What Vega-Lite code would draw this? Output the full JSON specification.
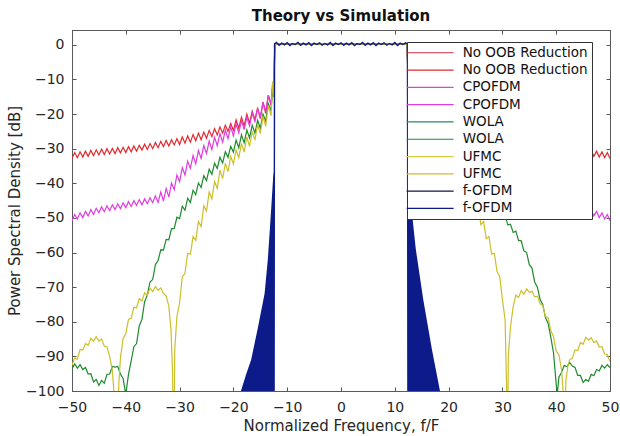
{
  "$schema": "https://vega.github.io/schema/vega-lite/v6.json",
  "width": 538,
  "height": 361,
  "autosize": "none",
  "padding": {"left": 72, "top": 30, "right": 10, "bottom": 45},
  "background": "white",
  "title": {"text": "Theory vs Simulation", "font": "DejaVu Sans", "fontSize": 15, "fontWeight": "bold", "color": "#111111", "offset": 6},
  "config": {"view": {"stroke": "#5a5a5a", "strokeWidth": 1}, "font": "DejaVu Sans"},
  "datasets": {
    "red": [
      {"x":-50,"y":-32.8},{"x":-49.5,"y":-31.1},{"x":-49,"y":-32.6},{"x":-48.5,"y":-30.9},{"x":-48,"y":-32.4},{"x":-47.5,"y":-30.7},{"x":-47,"y":-32.2},{"x":-46.5,"y":-30.5},{"x":-46,"y":-32.0},{"x":-45.5,"y":-30.3},{"x":-45,"y":-31.8},{"x":-44.5,"y":-30.1},{"x":-44,"y":-31.7},{"x":-43.5,"y":-30.0},{"x":-43,"y":-31.5},{"x":-42.5,"y":-29.9},{"x":-42,"y":-31.4},{"x":-41.5,"y":-29.7},{"x":-41,"y":-31.2},{"x":-40.5,"y":-29.6},{"x":-40,"y":-31.1},{"x":-39.5,"y":-29.4},{"x":-39,"y":-30.9},{"x":-38.5,"y":-29.2},{"x":-38,"y":-30.7},{"x":-37.5,"y":-29.0},{"x":-37,"y":-30.4},{"x":-36.5,"y":-28.7},{"x":-36,"y":-30.2},{"x":-35.5,"y":-28.5},{"x":-35,"y":-30.0},{"x":-34.5,"y":-28.2},{"x":-34,"y":-29.7},{"x":-33.5,"y":-27.9},{"x":-33,"y":-29.4},{"x":-32.5,"y":-27.6},{"x":-32,"y":-29.2},{"x":-31.5,"y":-27.4},{"x":-31,"y":-28.9},{"x":-30.5,"y":-27.1},{"x":-30,"y":-28.8},{"x":-29.5,"y":-26.6},{"x":-29,"y":-28.4},{"x":-28.5,"y":-26.3},{"x":-28,"y":-28.1},{"x":-27.5,"y":-25.9},{"x":-27,"y":-27.7},{"x":-26.5,"y":-25.5},{"x":-26,"y":-27.4},{"x":-25.5,"y":-25.2},{"x":-25,"y":-27.0},{"x":-24.5,"y":-24.7},{"x":-24,"y":-26.5},{"x":-23.5,"y":-24.2},{"x":-23,"y":-26.0},{"x":-22.5,"y":-23.7},{"x":-22,"y":-25.5},{"x":-21.5,"y":-23.2},{"x":-21,"y":-25.0},{"x":-20.5,"y":-22.7},{"x":-20,"y":-24.7},{"x":-19.5,"y":-21.7},{"x":-19,"y":-24.1},{"x":-18.5,"y":-20.9},{"x":-18,"y":-23.4},{"x":-17.5,"y":-20.0},{"x":-17,"y":-22.6},{"x":-16.5,"y":-19.2},{"x":-16,"y":-21.6},{"x":-15.5,"y":-18.2},{"x":-15,"y":-21.3},{"x":-14.5,"y":-16.5},{"x":-14,"y":-19.8},{"x":-13.5,"y":-14.5},{"x":-13,"y":-17.5},{"x":-12.7,"y":-11.5},{"x":-12.5,"y":-14},{"x":-12.3,"y":0.2},{"x":0,"y":0.2},{"x":12.3,"y":0.2},{"x":12.5,"y":-14},{"x":13,"y":-17.5},{"x":14,"y":-19.8},{"x":15,"y":-21.3},{"x":20,"y":-24.7},{"x":30,"y":-28.8},{"x":40,"y":-31.1},{"x":46,"y":-32.0},{"x":46.5,"y":-30.5},{"x":47,"y":-32.2},{"x":47.5,"y":-30.7},{"x":48,"y":-32.4},{"x":48.5,"y":-30.9},{"x":49,"y":-32.6},{"x":49.5,"y":-31.1},{"x":50,"y":-32.8}
    ],
    "magenta": [
      {"x":-50,"y":-50.8},{"x":-49.5,"y":-49.0},{"x":-49,"y":-50.3},{"x":-48.5,"y":-48.5},{"x":-48,"y":-49.9},{"x":-47.5,"y":-48.1},{"x":-47,"y":-49.4},{"x":-46.5,"y":-47.6},{"x":-46,"y":-49.0},{"x":-45.5,"y":-47.2},{"x":-45,"y":-48.5},{"x":-44.5,"y":-46.8},{"x":-44,"y":-48.2},{"x":-43.5,"y":-46.5},{"x":-43,"y":-47.9},{"x":-42.5,"y":-46.2},{"x":-42,"y":-47.6},{"x":-41.5,"y":-45.9},{"x":-41,"y":-47.3},{"x":-40.5,"y":-45.6},{"x":-40,"y":-47.0},{"x":-39.5,"y":-45.3},{"x":-39,"y":-46.7},{"x":-38.5,"y":-45.0},{"x":-38,"y":-46.4},{"x":-37.5,"y":-44.7},{"x":-37,"y":-46.2},{"x":-36.5,"y":-44.5},{"x":-36,"y":-45.9},{"x":-35.5,"y":-44.2},{"x":-35,"y":-45.6},{"x":-34.5,"y":-43.6},{"x":-34,"y":-45.5},{"x":-33.5,"y":-42.5},{"x":-33,"y":-45.1},{"x":-32.5,"y":-41.5},{"x":-32,"y":-44.0},{"x":-31.5,"y":-39.9},{"x":-31,"y":-41.8},{"x":-30.5,"y":-37.6},{"x":-30,"y":-39.5},{"x":-29.5,"y":-35.5},{"x":-29,"y":-37.6},{"x":-28.5,"y":-33.6},{"x":-28,"y":-35.7},{"x":-27.5,"y":-32.0},{"x":-27,"y":-34.3},{"x":-26.5,"y":-30.5},{"x":-26,"y":-32.8},{"x":-25.5,"y":-29.1},{"x":-25,"y":-31.4},{"x":-24.5,"y":-27.8},{"x":-24,"y":-30.2},{"x":-23.5,"y":-26.7},{"x":-23,"y":-29.1},{"x":-22.5,"y":-25.6},{"x":-22,"y":-28.1},{"x":-21.5,"y":-24.6},{"x":-21,"y":-27.1},{"x":-20.5,"y":-23.7},{"x":-20,"y":-26.3},{"x":-19.5,"y":-22.8},{"x":-19,"y":-25.4},{"x":-18.5,"y":-21.9},{"x":-18,"y":-24.5},{"x":-17.5,"y":-20.9},{"x":-17,"y":-23.4},{"x":-16.5,"y":-19.7},{"x":-16,"y":-22.1},{"x":-15.5,"y":-18.4},{"x":-15,"y":-20.9},{"x":-14.5,"y":-16.6},{"x":-14,"y":-19.3},{"x":-13.5,"y":-14.5},{"x":-13,"y":-17.2},{"x":-12.7,"y":-11.0},{"x":-12.5,"y":-14},{"x":-12.3,"y":0.2},{"x":0,"y":0.2},{"x":12.3,"y":0.2},{"x":12.5,"y":-14},{"x":13,"y":-17.2},{"x":14,"y":-19.3},{"x":15,"y":-20.9},{"x":20,"y":-26.3},{"x":25,"y":-31.4},{"x":30,"y":-39.5},{"x":32,"y":-44.0},{"x":35,"y":-45.6},{"x":40,"y":-47.0},{"x":44,"y":-48.2},{"x":44.5,"y":-46.8},{"x":45,"y":-48.5},{"x":45.5,"y":-47.2},{"x":46,"y":-49.0},{"x":46.5,"y":-47.6},{"x":47,"y":-49.4},{"x":47.5,"y":-48.1},{"x":48,"y":-49.9},{"x":48.5,"y":-48.5},{"x":49,"y":-50.3},{"x":49.5,"y":-49.0},{"x":50,"y":-50.8}
    ],
    "green": [
      {"x":-50,"y":-93.6},{"x":-49.5,"y":-92.2},{"x":-49,"y":-93.4},{"x":-48.5,"y":-92.4},{"x":-48,"y":-93.8},{"x":-47.5,"y":-93.2},{"x":-47,"y":-95.1},{"x":-46.5,"y":-95.0},{"x":-46,"y":-97.4},{"x":-45.5,"y":-96.7},{"x":-45,"y":-98.4},{"x":-44.5,"y":-96.9},{"x":-44,"y":-97.8},{"x":-43.5,"y":-95.2},{"x":-43,"y":-95.1},{"x":-42.5,"y":-92.9},{"x":-42,"y":-93.1},{"x":-41.5,"y":-92.9},{"x":-41,"y":-95.1},{"x":-40.5,"y":-96.4},{"x":-40,"y":-101},{"x":-39.5,"y":-95.2},{"x":-39,"y":-91.3},{"x":-38.5,"y":-87.2},{"x":-38,"y":-86.3},{"x":-37.5,"y":-81.2},{"x":-37,"y":-79.3},{"x":-36.5,"y":-74.2},{"x":-36,"y":-72.3},{"x":-35.5,"y":-68.5},{"x":-35,"y":-67.8},{"x":-34.5,"y":-63.5},{"x":-34,"y":-62.3},{"x":-33.5,"y":-59.2},{"x":-33,"y":-59.3},{"x":-32.5,"y":-56.2},{"x":-32,"y":-56.3},{"x":-31.5,"y":-53.1},{"x":-31,"y":-53.1},{"x":-30.5,"y":-49.8},{"x":-30,"y":-50.2},{"x":-29.5,"y":-46.6},{"x":-29,"y":-47.8},{"x":-28.5,"y":-44.3},{"x":-28,"y":-45.5},{"x":-27.5,"y":-42.0},{"x":-27,"y":-43.3},{"x":-26.5,"y":-39.9},{"x":-26,"y":-41.2},{"x":-25.5,"y":-37.8},{"x":-25,"y":-39.2},{"x":-24.5,"y":-35.9},{"x":-24,"y":-37.4},{"x":-23.5,"y":-34.2},{"x":-23,"y":-35.7},{"x":-22.5,"y":-32.5},{"x":-22,"y":-34.1},{"x":-21.5,"y":-30.9},{"x":-21,"y":-32.5},{"x":-20.5,"y":-29.3},{"x":-20,"y":-31.0},{"x":-19.5,"y":-27.5},{"x":-19,"y":-29.7},{"x":-18.5,"y":-26.0},{"x":-18,"y":-28.3},{"x":-17.5,"y":-24.6},{"x":-17,"y":-26.9},{"x":-16.5,"y":-23.2},{"x":-16,"y":-25.5},{"x":-15.5,"y":-21.8},{"x":-15,"y":-24.1},{"x":-14.5,"y":-20.0},{"x":-14,"y":-22.0},{"x":-13.5,"y":-17.0},{"x":-13,"y":-19.0},{"x":-12.7,"y":-12.5},{"x":-12.5,"y":-15},{"x":-12.3,"y":0.2},{"x":0,"y":0.2},{"x":12.3,"y":0.2},{"x":12.5,"y":-15},{"x":13,"y":-19},{"x":14,"y":-22},{"x":15,"y":-24.1},{"x":17,"y":-26.9},{"x":20,"y":-31.0},{"x":25,"y":-39.2},{"x":28,"y":-45.5},{"x":30,"y":-49.8},{"x":30.5,"y":-49.2},{"x":31,"y":-52.0},{"x":31.5,"y":-51.8},{"x":32,"y":-54.2},{"x":32.5,"y":-53.8},{"x":33,"y":-56.5},{"x":33.5,"y":-56.6},{"x":34,"y":-59.5},{"x":34.5,"y":-60.0},{"x":35,"y":-63.5},{"x":35.5,"y":-64.5},{"x":36,"y":-68.5},{"x":36.5,"y":-70.0},{"x":37,"y":-73.5},{"x":37.5,"y":-75.0},{"x":38,"y":-78.8},{"x":38.5,"y":-80.5},{"x":39,"y":-84.5},{"x":39.5,"y":-89.0},{"x":40,"y":-98},{"x":40.2,"y":-101},{"x":40.5,"y":-96},{"x":41,"y":-94.6},{"x":41.5,"y":-92.6},{"x":42,"y":-93.0},{"x":42.5,"y":-91.8},{"x":43,"y":-92.8},{"x":43.5,"y":-93.2},{"x":44,"y":-95.5},{"x":44.5,"y":-95.5},{"x":45,"y":-97.5},{"x":45.5,"y":-96.7},{"x":46,"y":-97.2},{"x":46.5,"y":-95.2},{"x":47,"y":-95.6},{"x":47.5,"y":-93.8},{"x":48,"y":-94.2},{"x":48.5,"y":-92.6},{"x":49,"y":-93.4},{"x":49.5,"y":-92.4},{"x":50,"y":-93.2}
    ],
    "yellow": [
      {"x":-50,"y":-92.5},{"x":-49.5,"y":-90.5},{"x":-49,"y":-90.8},{"x":-48.5,"y":-88.0},{"x":-48,"y":-88.2},{"x":-47.5,"y":-86.3},{"x":-47,"y":-86.8},{"x":-46.5,"y":-84.8},{"x":-46,"y":-85.6},{"x":-45.5,"y":-84.3},{"x":-45,"y":-85.6},{"x":-44.5,"y":-85.0},{"x":-44,"y":-87.0},{"x":-43.5,"y":-87.3},{"x":-43,"y":-90.0},{"x":-42.5,"y":-94.0},{"x":-42.2,"y":-100.5},{"x":-41.7,"y":-125},{"x":-41.3,"y":-98},{"x":-41,"y":-90.5},{"x":-40.5,"y":-84.8},{"x":-40,"y":-83.5},{"x":-39.5,"y":-79.3},{"x":-39,"y":-79.0},{"x":-38.5,"y":-75.8},{"x":-38,"y":-76.0},{"x":-37.5,"y":-73.3},{"x":-37,"y":-74.0},{"x":-36.5,"y":-71.6},{"x":-36,"y":-72.3},{"x":-35.5,"y":-70.3},{"x":-35,"y":-71.3},{"x":-34.5,"y":-69.8},{"x":-34,"y":-70.9},{"x":-33.5,"y":-70.2},{"x":-33,"y":-71.8},{"x":-32.5,"y":-72.5},{"x":-32,"y":-75.5},{"x":-31.6,"y":-82.4},{"x":-31.3,"y":-95},{"x":-31.1,"y":-125},{"x":-30.9,"y":-88},{"x":-30.5,"y":-78.5},{"x":-30,"y":-74.5},{"x":-29.5,"y":-67.0},{"x":-29,"y":-66.0},{"x":-28.5,"y":-60.2},{"x":-28,"y":-60.5},{"x":-27.5,"y":-55.4},{"x":-27,"y":-56.5},{"x":-26.5,"y":-51.0},{"x":-26,"y":-52.5},{"x":-25.5,"y":-46.5},{"x":-25,"y":-48.0},{"x":-24.5,"y":-42.5},{"x":-24,"y":-44.5},{"x":-23.5,"y":-39.5},{"x":-23,"y":-41.5},{"x":-22.5,"y":-36.2},{"x":-22,"y":-38.6},{"x":-21.5,"y":-34.2},{"x":-21,"y":-36.6},{"x":-20.5,"y":-32.2},{"x":-20,"y":-34.4},{"x":-19.5,"y":-30.3},{"x":-19,"y":-32.6},{"x":-18.5,"y":-28.5},{"x":-18,"y":-31.0},{"x":-17.5,"y":-26.6},{"x":-17,"y":-29.3},{"x":-16.5,"y":-25.0},{"x":-16,"y":-27.5},{"x":-15.5,"y":-23.0},{"x":-15,"y":-25.6},{"x":-14.5,"y":-20.6},{"x":-14,"y":-23.5},{"x":-13.5,"y":-17.5},{"x":-13,"y":-20.5},{"x":-12.7,"y":-10.5},{"x":-12.5,"y":-15},{"x":-12.3,"y":0.2},{"x":0,"y":0.2},{"x":12.3,"y":0.2},{"x":12.5,"y":-15},{"x":13,"y":-20.5},{"x":14,"y":-23.5},{"x":15,"y":-25.6},{"x":17,"y":-29.3},{"x":20,"y":-34.4},{"x":23,"y":-41.5},{"x":25,"y":-48.0},{"x":25.5,"y":-46.5},{"x":26,"y":-52.0},{"x":26.5,"y":-51.0},{"x":27,"y":-56.0},{"x":27.5,"y":-55.4},{"x":28,"y":-60.5},{"x":28.5,"y":-60.2},{"x":29,"y":-65.5},{"x":29.5,"y":-67.0},{"x":30,"y":-73.5},{"x":30.5,"y":-79.5},{"x":30.8,"y":-100.5},{"x":30.9,"y":-125},{"x":31.1,"y":-90},{"x":31.5,"y":-81.5},{"x":32,"y":-75.7},{"x":32.5,"y":-72.3},{"x":33,"y":-73.0},{"x":33.5,"y":-71.0},{"x":34,"y":-72.0},{"x":34.5,"y":-70.5},{"x":35,"y":-71.5},{"x":35.5,"y":-71.2},{"x":36,"y":-72.8},{"x":36.5,"y":-72.6},{"x":37,"y":-74.8},{"x":37.5,"y":-75.2},{"x":38,"y":-78.5},{"x":38.5,"y":-78.8},{"x":39,"y":-82.5},{"x":39.5,"y":-84.3},{"x":40,"y":-88.5},{"x":40.5,"y":-89.5},{"x":41,"y":-94},{"x":41.3,"y":-100.5},{"x":41.5,"y":-125},{"x":41.8,"y":-97},{"x":42.2,"y":-92.5},{"x":42.5,"y":-91.0},{"x":43,"y":-90.5},{"x":43.5,"y":-88.2},{"x":44,"y":-88.3},{"x":44.5,"y":-86.0},{"x":45,"y":-86.5},{"x":45.5,"y":-84.5},{"x":46,"y":-85.3},{"x":46.5,"y":-84.6},{"x":47,"y":-86.0},{"x":47.5,"y":-85.6},{"x":48,"y":-87.3},{"x":48.5,"y":-87.2},{"x":49,"y":-89.3},{"x":49.5,"y":-89.5},{"x":50,"y":-91.5}
    ],
    "navy": [
      {"x":-12.45,"y":-101},{"x":-12.35,"y":0.3},{"x":-12,"y":0.7},{"x":-11.5,"y":-0.1},{"x":-11,"y":0.5},{"x":-10.5,"y":0.0},{"x":-10,"y":0.6},{"x":-9.5,"y":-0.2},{"x":-9,"y":0.4},{"x":-8.5,"y":0.1},{"x":-8,"y":0.7},{"x":-7.5,"y":-0.1},{"x":-7,"y":0.5},{"x":-6.5,"y":0.0},{"x":-6,"y":0.6},{"x":-5.5,"y":-0.2},{"x":-5,"y":0.5},{"x":-4.5,"y":0.1},{"x":-4,"y":0.6},{"x":-3.5,"y":-0.1},{"x":-3,"y":0.4},{"x":-2.5,"y":0.0},{"x":-2,"y":0.7},{"x":-1.5,"y":-0.2},{"x":-1,"y":0.5},{"x":-0.5,"y":0.1},{"x":0,"y":0.6},{"x":0.5,"y":-0.1},{"x":1,"y":0.5},{"x":1.5,"y":0.0},{"x":2,"y":0.6},{"x":2.5,"y":-0.2},{"x":3,"y":0.4},{"x":3.5,"y":0.1},{"x":4,"y":0.7},{"x":4.5,"y":-0.1},{"x":5,"y":0.5},{"x":5.5,"y":0.0},{"x":6,"y":0.6},{"x":6.5,"y":-0.2},{"x":7,"y":0.5},{"x":7.5,"y":0.1},{"x":8,"y":0.6},{"x":8.5,"y":-0.1},{"x":9,"y":0.4},{"x":9.5,"y":0.0},{"x":10,"y":0.7},{"x":10.5,"y":-0.2},{"x":11,"y":0.5},{"x":11.5,"y":0.1},{"x":12,"y":0.6},{"x":12.35,"y":0.3},{"x":12.45,"y":-101}
    ],
    "skirt": [
      {"side":"L","x":-18.6,"y":-100},{"side":"L","x":-17.6,"y":-95},{"side":"L","x":-16.7,"y":-91},{"side":"L","x":-15.4,"y":-81.4},{"side":"L","x":-14.2,"y":-71.8},{"side":"L","x":-13.6,"y":-62},{"side":"L","x":-13.0,"y":-48},{"side":"L","x":-12.6,"y":-38},{"side":"L","x":-12.4,"y":-36},
      {"side":"R","x":12.4,"y":-36},{"side":"R","x":12.6,"y":-40},{"side":"R","x":13.9,"y":-59},{"side":"R","x":15.3,"y":-73.7},{"side":"R","x":16.9,"y":-88},{"side":"R","x":18.4,"y":-100}
    ]
  },
  "layer": [
    {
      "data": {"name": "red"},
      "mark": {"type": "line", "clip": true, "strokeWidth": 1.2},
      "encoding": {
        "x": {"field": "x", "type": "quantitative", "scale": {"domain": [-50, 50], "nice": false, "zero": false},
          "axis": {"orient": "bottom", "values": [-50,-40,-30,-20,-10,0,10,20,30,40,50], "title": "Normalized Frequency, f/F", "titleFont": "DejaVu Sans", "titleFontSize": 15, "titleFontWeight": "normal", "titleColor": "#262626", "titlePadding": 4, "labelFont": "DejaVu Sans", "labelFontSize": 14, "labelColor": "#262626", "labelPadding": 13, "labelFlush": false, "labelOverlap": false, "tickSize": -4, "tickColor": "#555555", "domainColor": "#5a5a5a", "grid": false}},
        "y": {"field": "y", "type": "quantitative", "scale": {"domain": [-100, 4.3], "nice": false, "zero": false},
          "axis": {"orient": "left", "values": [-100,-90,-80,-70,-60,-50,-40,-30,-20,-10,0], "title": "Power Spectral Density [dB]", "titleFont": "DejaVu Sans", "titleFontSize": 15, "titleFontWeight": "normal", "titleColor": "#262626", "titlePadding": 3, "labelFont": "DejaVu Sans", "labelFontSize": 14, "labelColor": "#262626", "labelPadding": 12, "labelOverlap": false, "labelFlush": false, "tickSize": -4, "tickColor": "#555555", "domainColor": "#5a5a5a", "grid": false}},
        "color": {"datum": "2 No OOB Reduction", "type": "nominal",
          "scale": {"domain": ["1 No OOB Reduction","2 No OOB Reduction","1 CPOFDM","2 CPOFDM","1 WOLA","2 WOLA","1 UFMC","2 UFMC","1 f-OFDM","2 f-OFDM"],
                    "range": ["#c4303c","#e3282e","#d24ad2","#e03ce0","#2f8a58","#1f8a2e","#d8ca44","#cdbf2a","#10163e","#0c1a8a"]},
          "legend": {"orient": "none", "legendX": 335, "legendY": 12, "title": null, "symbolType": "M-10,0H10", "symbolSize": 22, "symbolStrokeWidth": 1.2, "symbolOffset": 12.4, "labelOffset": 25.8, "labelFont": "DejaVu Sans", "labelFontSize": 13.5, "labelColor": "#111111", "labelExpr": "slice(datum.label, 2)", "rowPadding": 2.3, "padding": 4, "fillColor": "white", "strokeColor": "#333333", "labelLimit": 300}}
      }
    },
    {
      "data": {"name": "magenta"},
      "mark": {"type": "line", "clip": true, "strokeWidth": 1.2},
      "encoding": {
        "x": {"field": "x", "type": "quantitative", "axis": null},
        "y": {"field": "y", "type": "quantitative", "axis": null},
        "color": {"datum": "2 CPOFDM", "type": "nominal"}
      }
    },
    {
      "data": {"name": "green"},
      "mark": {"type": "line", "clip": true, "strokeWidth": 1.2},
      "encoding": {
        "x": {"field": "x", "type": "quantitative", "axis": null},
        "y": {"field": "y", "type": "quantitative", "axis": null},
        "color": {"datum": "2 WOLA", "type": "nominal"}
      }
    },
    {
      "data": {"name": "yellow"},
      "mark": {"type": "line", "clip": true, "strokeWidth": 1.2},
      "encoding": {
        "x": {"field": "x", "type": "quantitative", "axis": null},
        "y": {"field": "y", "type": "quantitative", "axis": null},
        "color": {"datum": "2 UFMC", "type": "nominal"}
      }
    },
    {
      "data": {"name": "navy"},
      "mark": {"type": "line", "clip": true, "strokeWidth": 1.4},
      "encoding": {
        "x": {"field": "x", "type": "quantitative", "axis": null},
        "y": {"field": "y", "type": "quantitative", "axis": null},
        "color": {"datum": "2 f-OFDM", "type": "nominal"}
      }
    },
    {
      "data": {"name": "skirt"},
      "mark": {"type": "area", "clip": true, "color": "#0c1a8a", "opacity": 1},
      "encoding": {
        "x": {"field": "x", "type": "quantitative",
          "axis": {"orient": "top", "values": [-50,-40,-30,-20,-10,0,10,20,30,40,50], "labels": false, "title": null, "tickSize": -4, "tickColor": "#555555", "domainColor": "#5a5a5a", "grid": false}},
        "y": {"field": "y", "type": "quantitative",
          "axis": {"orient": "right", "values": [-100,-90,-80,-70,-60,-50,-40,-30,-20,-10,0], "labels": false, "title": null, "tickSize": -4, "tickColor": "#555555", "domainColor": "#5a5a5a", "grid": false}},
        "y2": {"datum": -100},
        "detail": {"field": "side", "type": "nominal"}
      }
    }
  ],
  "resolve": {"axis": {"x": "independent", "y": "independent"}}
}
